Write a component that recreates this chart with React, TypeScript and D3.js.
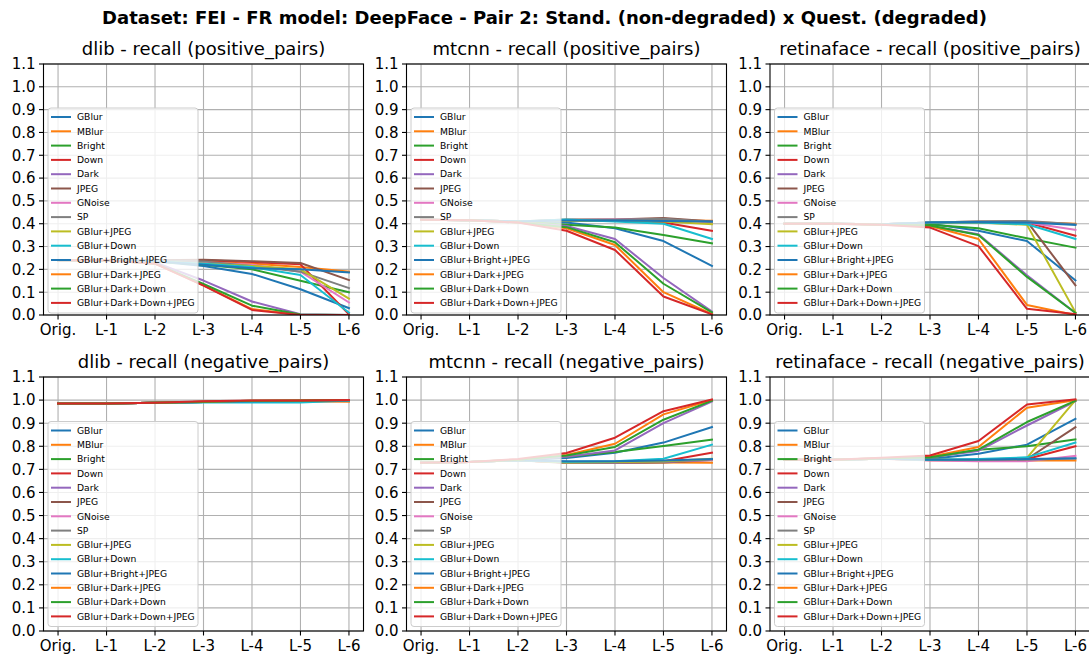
import React from 'react';
import * as d3 from 'd3';

const levels = ['Orig.', 'L-1', 'L-2', 'L-3', 'L-4', 'L-5', 'L-6'];
const seriesNames = [
  'GBlur', 'MBlur', 'Bright', 'Down', 'Dark', 'JPEG', 'GNoise', 'SP',
  'GBlur+JPEG', 'GBlur+Down', 'GBlur+Bright+JPEG', 'GBlur+Dark+JPEG',
  'GBlur+Dark+Down', 'GBlur+Dark+Down+JPEG',
];
const colors = [
  '#1f77b4', '#ff7f0e', '#2ca02c', '#d62728', '#9467bd', '#8c564b', '#e377c2',
  '#7f7f7f', '#bcbd22', '#17becf', '#1f77b4', '#ff7f0e', '#2ca02c', '#d62728',
];
const yTicks = [0, 0.1, 0.2, 0.3, 0.4, 0.5, 0.6, 0.7, 0.8, 0.9, 1.0, 1.1];
const suptitle = 'Dataset: FEI - FR model: DeepFace - Pair 2: Stand. (non-degraded) x Quest. (degraded)';
const panelTitles = [
  'dlib - recall (positive_pairs)', 'mtcnn - recall (positive_pairs)', 'retinaface - recall (positive_pairs)',
  'dlib - recall (negative_pairs)', 'mtcnn - recall (negative_pairs)', 'retinaface - recall (negative_pairs)',
];

const dlibPos = [
  [0.24, 0.24, 0.235, 0.215, 0.18, 0.113, 0.03],
  [0.24, 0.24, 0.24, 0.235, 0.225, 0.21, 0.19],
  [0.24, 0.24, 0.235, 0.22, 0.2, 0.15, 0.1],
  [0.24, 0.24, 0.24, 0.24, 0.232, 0.222, 0.003],
  [0.24, 0.24, 0.23, 0.151, 0.059, 0.003, 0.0],
  [0.24, 0.24, 0.24, 0.242, 0.236, 0.228, 0.153],
  [0.24, 0.24, 0.24, 0.23, 0.22, 0.19, 0.055],
  [0.24, 0.24, 0.24, 0.235, 0.215, 0.19, 0.118],
  [0.24, 0.24, 0.235, 0.225, 0.215, 0.2, 0.072],
  [0.24, 0.24, 0.235, 0.225, 0.21, 0.175, 0.01],
  [0.24, 0.24, 0.235, 0.22, 0.205, 0.2, 0.187],
  [0.24, 0.24, 0.225, 0.13, 0.026, 0.0, 0.0],
  [0.24, 0.24, 0.225, 0.136, 0.041, 0.002, 0.0],
  [0.24, 0.24, 0.225, 0.129, 0.022, 0.0, 0.0],
];
const mtcnnPos = [
  [0.417, 0.415, 0.41, 0.405, 0.38, 0.324, 0.215],
  [0.417, 0.415, 0.41, 0.415, 0.415, 0.415, 0.413],
  [0.417, 0.415, 0.41, 0.395, 0.383, 0.351, 0.314],
  [0.417, 0.415, 0.41, 0.415, 0.415, 0.405, 0.369],
  [0.417, 0.415, 0.405, 0.39, 0.333, 0.162, 0.015],
  [0.417, 0.415, 0.41, 0.418, 0.418, 0.425, 0.41],
  [0.417, 0.415, 0.41, 0.415, 0.418, 0.42, 0.405],
  [0.417, 0.415, 0.41, 0.416, 0.417, 0.422, 0.408],
  [0.417, 0.415, 0.41, 0.412, 0.412, 0.41, 0.398],
  [0.417, 0.415, 0.41, 0.418, 0.41, 0.4, 0.333],
  [0.417, 0.415, 0.41, 0.414, 0.414, 0.412, 0.41],
  [0.417, 0.415, 0.405, 0.38, 0.307, 0.1, 0.004],
  [0.417, 0.415, 0.405, 0.385, 0.319, 0.137, 0.012],
  [0.417, 0.415, 0.405, 0.369, 0.285, 0.081, 0.003],
];
const retinaPos = [
  [0.4, 0.4, 0.398, 0.4, 0.369, 0.324, 0.152],
  [0.4, 0.4, 0.398, 0.405, 0.408, 0.408, 0.4],
  [0.4, 0.4, 0.398, 0.395, 0.38, 0.336, 0.295],
  [0.4, 0.4, 0.398, 0.403, 0.408, 0.405, 0.347],
  [0.4, 0.4, 0.395, 0.39, 0.354, 0.174, 0.009],
  [0.4, 0.4, 0.398, 0.405, 0.41, 0.41, 0.13],
  [0.4, 0.4, 0.398, 0.405, 0.408, 0.405, 0.373],
  [0.4, 0.4, 0.398, 0.405, 0.41, 0.412, 0.398],
  [0.4, 0.4, 0.398, 0.403, 0.405, 0.395, 0.012],
  [0.4, 0.4, 0.398, 0.405, 0.405, 0.398, 0.333],
  [0.4, 0.4, 0.398, 0.405, 0.408, 0.405, 0.395],
  [0.4, 0.4, 0.395, 0.39, 0.333, 0.044, 0.0],
  [0.4, 0.4, 0.395, 0.392, 0.351, 0.167, 0.009],
  [0.4, 0.4, 0.395, 0.383, 0.302, 0.027, 0.004],
];
const dlibNeg = [
  [0.985, 0.985, 0.988, 0.992, 0.995, 0.996, 0.998],
  [0.985, 0.985, 0.988, 0.992, 0.994, 0.995, 0.993],
  [0.985, 0.985, 0.988, 0.992, 0.995, 0.996, 0.998],
  [0.985, 0.985, 0.988, 0.993, 0.996, 0.997, 0.999],
  [0.985, 0.985, 0.988, 0.993, 0.997, 0.998, 1.0],
  [0.985, 0.985, 0.988, 0.992, 0.994, 0.995, 0.996],
  [0.985, 0.985, 0.988, 0.992, 0.994, 0.995, 0.997],
  [0.985, 0.985, 0.988, 0.992, 0.994, 0.995, 0.997],
  [0.985, 0.985, 0.988, 0.992, 0.994, 0.995, 0.997],
  [0.985, 0.985, 0.988, 0.99, 0.99, 0.99, 0.998],
  [0.985, 0.985, 0.988, 0.992, 0.995, 0.996, 0.998],
  [0.985, 0.985, 0.988, 0.993, 0.997, 0.998, 1.0],
  [0.985, 0.985, 0.988, 0.993, 0.997, 0.998, 1.0],
  [0.985, 0.985, 0.988, 0.995, 0.998, 0.998, 1.0],
];
const mtcnnNeg = [
  [0.729, 0.732, 0.74, 0.749, 0.772, 0.816, 0.883],
  [0.729, 0.732, 0.74, 0.73, 0.73, 0.73, 0.729],
  [0.729, 0.732, 0.74, 0.755, 0.775, 0.801, 0.829],
  [0.729, 0.732, 0.74, 0.73, 0.73, 0.735, 0.772],
  [0.729, 0.732, 0.742, 0.755, 0.782, 0.9, 0.994],
  [0.729, 0.732, 0.74, 0.728, 0.728, 0.73, 0.74],
  [0.729, 0.732, 0.74, 0.73, 0.73, 0.733, 0.74],
  [0.729, 0.732, 0.74, 0.73, 0.73, 0.733, 0.742],
  [0.729, 0.732, 0.74, 0.73, 0.732, 0.735, 0.746],
  [0.729, 0.732, 0.74, 0.733, 0.735, 0.746, 0.807],
  [0.729, 0.732, 0.74, 0.735, 0.735, 0.738, 0.745],
  [0.729, 0.732, 0.742, 0.762, 0.811, 0.938, 1.0],
  [0.729, 0.732, 0.742, 0.76, 0.797, 0.915, 0.997],
  [0.729, 0.732, 0.745, 0.771, 0.837, 0.952, 1.003],
];
const retinaNeg = [
  [0.742, 0.742, 0.746, 0.745, 0.768, 0.807, 0.919],
  [0.742, 0.742, 0.746, 0.74, 0.738, 0.738, 0.738],
  [0.742, 0.742, 0.746, 0.75, 0.785, 0.8, 0.83],
  [0.742, 0.742, 0.746, 0.742, 0.74, 0.745, 0.8],
  [0.742, 0.742, 0.748, 0.752, 0.78, 0.89, 0.995],
  [0.742, 0.742, 0.746, 0.742, 0.74, 0.745, 0.883],
  [0.742, 0.742, 0.746, 0.738, 0.735, 0.735, 0.758],
  [0.742, 0.742, 0.746, 0.742, 0.742, 0.742, 0.747],
  [0.742, 0.742, 0.746, 0.742, 0.742, 0.75, 1.0],
  [0.742, 0.742, 0.746, 0.742, 0.745, 0.752, 0.816],
  [0.742, 0.742, 0.746, 0.742, 0.742, 0.745, 0.748],
  [0.742, 0.742, 0.748, 0.755, 0.797, 0.967, 1.0],
  [0.742, 0.742, 0.748, 0.752, 0.785, 0.905, 0.997],
  [0.742, 0.742, 0.75, 0.76, 0.823, 0.981, 1.003],
];

const panelData = [dlibPos, mtcnnPos, retinaPos, dlibNeg, mtcnnNeg, retinaNeg];

const W = 1089;
const H = 656;
const FONT = 'DejaVu Sans';
const colLefts = [43.5, 406.5, 770];
const axW = 320;
const rowTops = [64, 377];
const rowBottoms = [315, 631];
const legendTops = [108, 421.5];
const legendH = 205;

function Panel({ idx }: { idx: number }) {
  const r = Math.floor(idx / 3);
  const c = idx % 3;
  const left = colLefts[c];
  const top = rowTops[r];
  const bottom = rowBottoms[r];
  const x = d3.scaleLinear().domain([-0.3, 6.3]).range([left, left + axW]);
  const y = d3.scaleLinear().domain([0, 1.1]).range([bottom, top]);
  const line = d3.line<number>().x((_, i) => x(i)).y((v) => y(v));
  const data = panelData[idx];
  const clipId = `clip-${idx}`;
  const lx = left + 4.5;
  const ly = legendTops[r];
  const fmt = d3.format('.1f');
  return (
    <g>
      <defs>
        <clipPath id={clipId}>
          <rect x={left} y={top} width={axW} height={bottom - top} />
        </clipPath>
      </defs>
      {levels.map((_, i) => (
        <line key={'gx' + i} x1={x(i)} x2={x(i)} y1={top} y2={bottom} stroke="#b0b0b0" strokeWidth={1.1} />
      ))}
      {yTicks.map((t) => (
        <line key={'gy' + t} x1={left} x2={left + axW} y1={y(t)} y2={y(t)} stroke="#b0b0b0" strokeWidth={1.1} />
      ))}
      <g clipPath={`url(#${clipId})`}>
        {data.map((s, i) => (
          <path key={'l' + i} d={line(s) || ''} fill="none" stroke={colors[i]} strokeWidth={2} strokeLinejoin="round" strokeLinecap="square" />
        ))}
      </g>
      <rect x={left} y={top} width={axW} height={bottom - top} fill="none" stroke="#000" strokeWidth={1.1} />
      {yTicks.map((t) => (
        <g key={'ty' + t}>
          <line x1={left - 4.5} x2={left} y1={y(t)} y2={y(t)} stroke="#000" strokeWidth={1.1} />
          <text x={left - 8} y={y(t)} dy="0.36em" textAnchor="end" fontFamily={FONT} fontSize={15} fill="#000">{fmt(t)}</text>
        </g>
      ))}
      {levels.map((lab, i) => (
        <g key={'tx' + i}>
          <line x1={x(i)} x2={x(i)} y1={bottom} y2={bottom + 4.5} stroke="#000" strokeWidth={1.1} />
          <text x={x(i)} y={bottom + 20} textAnchor="middle" fontFamily={FONT} fontSize={15} fill="#000">{lab}</text>
        </g>
      ))}
      <text x={left + axW / 2} y={top - 9} textAnchor="middle" fontFamily={FONT} fontSize={18} fill="#000">{panelTitles[idx]}</text>
      <rect x={lx} y={ly} width={150} height={legendH} rx={3} fill="#fff" fillOpacity={0.8} stroke="#cccccc" strokeWidth={1} />
      {seriesNames.map((n, i) => {
        const yy = ly + 9 + i * 14.3;
        return (
          <g key={'lg' + i}>
            <line x1={lx + 3} x2={lx + 23} y1={yy} y2={yy} stroke={colors[i]} strokeWidth={2} />
            <text x={lx + 29} y={yy} dy="0.35em" fontFamily={FONT} fontSize={9.2} fill="#000">{n}</text>
          </g>
        );
      })}
    </g>
  );
}

export default function App() {
  return (
    <svg width={W} height={H} style={{ position: 'absolute', left: 0, top: 0, background: '#fff' }}>
      <rect width={W} height={H} fill="#fff" />
      <text x={W / 2} y={24} textAnchor="middle" fontFamily={FONT} fontWeight="bold" fontSize={18} fill="#000">{suptitle}</text>
      {[0, 1, 2, 3, 4, 5].map((i) => <Panel key={i} idx={i} />)}
    </svg>
  );
}
